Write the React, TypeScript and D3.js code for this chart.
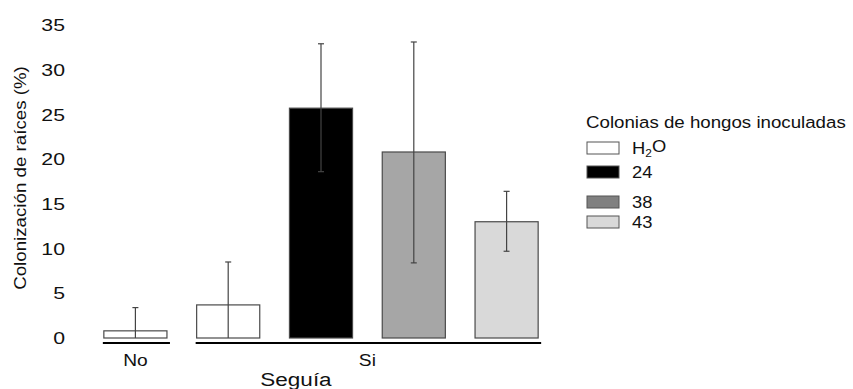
import React from "react";
import * as d3 from "d3";

// data
const groups = ["No", "Si"];
const bars = [
  { key: "No-H2O", group: "No", colony: "H2O" },
  { key: "Si-H2O", group: "Si", colony: "H2O" },
  { key: "Si-24", group: "Si", colony: "24" },
  { key: "Si-38", group: "Si", colony: "38" },
  { key: "Si-43", group: "Si", colony: "43" },
];
const means = [0.8, 3.7, 25.7, 20.8, 13.0];
const errUp = [3.4, 8.5, 32.9, 33.1, 16.4];
const errDown = [0, 0, 18.6, 8.4, 9.7];
const yTicks = [0, 5, 10, 15, 20, 25, 30, 35];
const colonies = ["H2O", "24", "38", "43"];
const barFill = ["#ffffff", "#000000", "#a6a6a6", "#d9d9d9"];
const legendFill = ["#ffffff", "#000000", "#808080", "#d9d9d9"];

const W = 853;
const H = 389;
const font = "'Liberation Sans', Arial, sans-serif";

// text in the original is a bit stretched sideways
const SText = ({ x, y, sx = 1, rot = 0, size, anchor = "start", dy, children }: any) => (
  <text
    transform={`translate(${x},${y}) rotate(${rot}) scale(${sx},1)`}
    textAnchor={anchor}
    dy={dy}
    fontSize={size}
    fill="#111"
  >
    {children}
  </text>
);

const App = () => {
  const y = d3.scaleLinear().domain([0, 35]).range([338, 25]);
  const x = d3
    .scaleBand()
    .domain(bars.map((b) => b.key))
    .range([89, 553])
    .paddingInner(0.32)
    .paddingOuter(0.16);
  const bw = x.bandwidth();
  const fillOf = d3.scaleOrdinal<string, string>().domain(colonies).range(barFill);
  const legendOf = d3.scaleOrdinal<string, string>().domain(colonies).range(legendFill);

  // group underline extents
  const groupSpan = groups.map((g) => {
    const keys = bars.filter((b) => b.group === g).map((b) => b.key);
    const x0 = x(keys[0])!;
    const x1 = x(keys[keys.length - 1])! + bw;
    return { g, x0: x0 - 1, x1: x1 + 3, mid: (x0 + x1) / 2 };
  });

  const legendY = [148, 172, 202, 222];

  return (
    <svg width={W} height={H} style={{ position: "absolute", left: 0, top: 0 }} fontFamily={font}>
      <rect width={W} height={H} fill="#fff" />

      {/* y tick labels, no axis line */}
      {yTicks.map((t) => (
        <SText key={t} x={65} y={y(t)} dy="0.36em" anchor="end" size={17} sx={1.25}>
          {t}
        </SText>
      ))}
      <SText x={26} y={178} rot={-90} anchor="middle" size={16} sx={1.17}>
        Colonización de raíces (%)
      </SText>

      {/* bars */}
      {bars.map((b, i) => (
        <rect
          key={b.key}
          x={x(b.key)}
          y={y(means[i])}
          width={bw}
          height={y(0) - y(means[i])}
          fill={fillOf(b.colony)}
          stroke="#4a4a4a"
          strokeWidth={1.2}
        />
      ))}

      {/* error bars */}
      {bars.map((b, i) => {
        const cx = x(b.key)! + bw / 2;
        return (
          <g key={b.key + "e"} stroke="#444" strokeWidth={1.2}>
            <line x1={cx} x2={cx} y1={y(errUp[i])} y2={y(errDown[i])} />
            <line x1={cx - 3} x2={cx + 3} y1={y(errUp[i])} y2={y(errUp[i])} />
            {errDown[i] > 0 && (
              <line x1={cx - 3} x2={cx + 3} y1={y(errDown[i])} y2={y(errDown[i])} />
            )}
          </g>
        );
      })}

      {/* group lines and labels */}
      {groupSpan.map((s) => (
        <g key={s.g}>
          <line x1={s.x0} x2={s.x1} y1={343} y2={343} stroke="#000" strokeWidth={2} />
          <SText x={s.mid} y={366} anchor="middle" size={17} sx={1.13}>
            {s.g}
          </SText>
        </g>
      ))}
      <SText x={296} y={386} anchor="middle" size={18} sx={1.25}>
        Seguía
      </SText>

      {/* legend */}
      <SText x={586} y={128} size={17} sx={1.1}>
        Colonias de hongos inoculadas
      </SText>
      {colonies.map((c, i) => (
        <g key={c}>
          <rect
            x={587}
            y={legendY[i] - 6}
            width={32}
            height={12}
            fill={legendOf(c)}
            stroke="#555"
            strokeWidth={1}
          />
          <SText x={632} y={legendY[i]} dy="0.36em" size={17} sx={1.08}>
            {c === "H2O" ? (
              <>
                H<tspan fontSize={11} dy="0.3em">2</tspan>
                <tspan dy="-0.3em">O</tspan>
              </>
            ) : (
              c
            )}
          </SText>
        </g>
      ))}
    </svg>
  );
};

export default App;
